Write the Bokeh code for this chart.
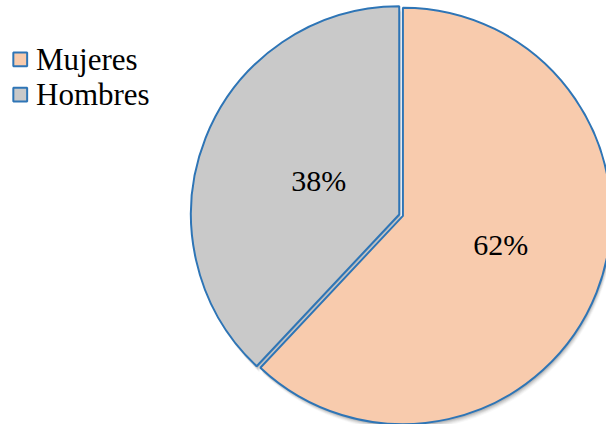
import math
from bokeh.plotting import figure
from bokeh.models import Range1d, ColumnDataSource
from bokeh.core.properties import value
from bokeh.embed import file_html
from bokeh.resources import INLINE

# ---- data ----
categories = ["Mujeres", "Hombres"]
shares = [62, 38]
labels = ["62%", "38%"]
colors = ["#F8CBAD", "#C9C9C9"]
outline = "#2E75B6"

FONT = value("Liberation Serif")

# ---- layout (reference-pixel data units, y up) ----
W, H = 606, 424
RW, RH = 614, 432
p = figure(width=W, height=H, output_backend="svg", toolbar_location=None,
           x_range=Range1d(0, RW), y_range=Range1d(0, RH),
           min_border=0, border_fill_color="white", background_fill_color="white")
p.axis.visible = False
p.grid.visible = False
p.outline_line_color = None

cx, cy = 404, RH - 218     # pie centre
R = 211
explode = [4, 0]
label_r = [0.49, 0.42]
label_nudge = [5, -1.5]    # degrees

total = sum(shares)
rows = dict(x=[], y=[], s=[], e=[], c=[], lx=[], ly=[], t=[])
ang = math.radians(90)
for cat, v, col, ex, lr, nd, lab in zip(categories, shares, colors, explode,
                                        label_r, label_nudge, labels):
    sweep = 2 * math.pi * v / total
    a_end = ang
    a_start = ang - sweep      # clockwise from 12 o'clock
    mid = (a_start + a_end) / 2
    x0 = cx + ex * math.cos(mid)
    y0 = cy + ex * math.sin(mid)
    rows["x"].append(x0); rows["y"].append(y0)
    rows["s"].append(a_start); rows["e"].append(a_end); rows["c"].append(col)
    la = mid + math.radians(nd)
    rows["lx"].append(x0 + lr * R * math.cos(la))
    rows["ly"].append(y0 + lr * R * math.sin(la))
    rows["t"].append(lab)
    ang = a_start

src = ColumnDataSource(rows)

# soft shadow
for k, a in [(6, 0.05), (5, 0.08), (4, 0.11), (3, 0.15), (2, 0.22)]:
    p.wedge(x="x", y="y", radius=R, start_angle="s", end_angle="e",
            source=ColumnDataSource(dict(x=[v + k * 0.4 for v in rows["x"]],
                                         y=[v - k for v in rows["y"]],
                                         s=rows["s"], e=rows["e"])),
            fill_color="#707070", fill_alpha=a, line_color=None)

p.wedge(x="x", y="y", radius=R, start_angle="s", end_angle="e", source=src,
        fill_color="c", line_color=outline, line_width=2)

p.text(x="lx", y="ly", text="t", source=src, text_font=FONT,
       text_font_size="30px", text_color="black", text_align="center",
       text_baseline="middle")

# legend (manual)
leg_x = 20
leg_y = [RH - 60, RH - 96]
p.rect(x=[leg_x] * 2, y=leg_y, width=14, height=14, fill_color=colors,
       line_color=outline, line_width=2)
p.text(x=[leg_x + 16] * 2, y=leg_y, text=categories, text_font=FONT,
       text_font_size="31px", text_color="black", text_align="left",
       text_baseline="middle")

open("out.html", "w").write(file_html(p, INLINE))
